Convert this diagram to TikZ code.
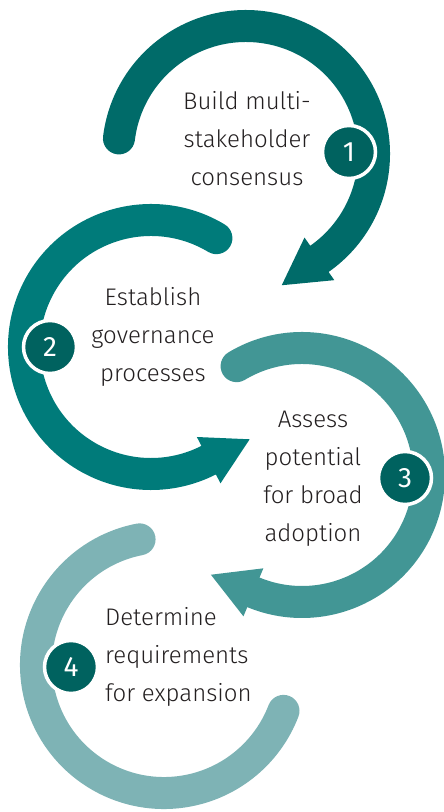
\documentclass[tikz,border=0pt]{standalone}
\usepackage{fontspec}
\setmainfont{Fira Sans Light}
\newfontfamily\numfont{Fira Sans}
\usetikzlibrary{calc}

\definecolor{tealone}{HTML}{006B69}
\definecolor{tealtwo}{HTML}{007B7A}
\definecolor{tealthree}{HTML}{429695}
\definecolor{tealfour}{HTML}{7EB3B5}
\definecolor{numteal}{HTML}{00625F}
\definecolor{inkgray}{HTML}{231F20}

\tikzset{
  band/.style={line width=32pt, line cap=round},
  numdot/.style={circle, fill=numteal, draw=white, line width=3.5pt,
    minimum size=53pt, inner sep=0pt, text=white,
    font=\numfont\fontsize{28}{28}\selectfont},
  steptext/.style={text=inkgray, inner sep=0pt,
    font=\fontsize{24}{38}\selectfont}
}

\begin{document}
\begin{tikzpicture}[x=1pt,y=1pt]
  \useasboundingbox (0,0) rectangle (444,-812);
  \coordinate (c1) at (246,-154);
  \coordinate (c2) at (151,-347);
  \coordinate (c3) at (302,-475);
  \coordinate (c4) at (164,-665);

  % step 1
  \draw[band, tealone] ($(c1)+(173:128)$) arc[start angle=173, end angle=-55, radius=128];
  \fill[tealone] ($(c1)+(-55:102)$) -- ($(c1)+(-55:154)$) -- ($(c1)+(-55:128)+(-145:46)$) -- cycle;

  % step 2
  \draw[band, tealtwo] ($(c2)+(59:127)$) arc[start angle=59, end angle=297, radius=127];
  \fill[tealtwo] ($(c2)+(297:101)$) -- ($(c2)+(297:153)$) -- ($(c2)+(297:127)+(27:46)$) -- cycle;

  % step 3
  \draw[band, tealthree] ($(c3)+(121:127)$) arc[start angle=121, end angle=-112.5, radius=127];
  \fill[tealthree] ($(c3)+(-112.5:101)$) -- ($(c3)+(-112.5:153)$) -- ($(c3)+(-112.5:127)+(157.5:46)$) -- cycle;

  % step 4
  \draw[band, tealfour] ($(c4)+(101:128)$) arc[start angle=101, end angle=339, radius=128];

  \node[numdot] (n1) at (349,-152) {1};
  \node[numdot] (n2) at (50,-347) {2};
  \node[numdot] (n3) at (405,-478) {3};
  \node[numdot] (n4) at (71,-667) {4};

  \node[steptext, align=center] (t1) at (247,-139) {Build multi-\\stakeholder\\consensus};
  \node[steptext, align=center] (t2) at (153,-337) {Establish\\governance\\processes};
  \node[steptext, align=center] (t3) at (313,-479) {Assess\\potential\\for broad\\adoption};
  \node[steptext, align=left, anchor=west] (t4) at (105,-657) {Determine\\requirements\\for expansion};
\end{tikzpicture}
\end{document}
